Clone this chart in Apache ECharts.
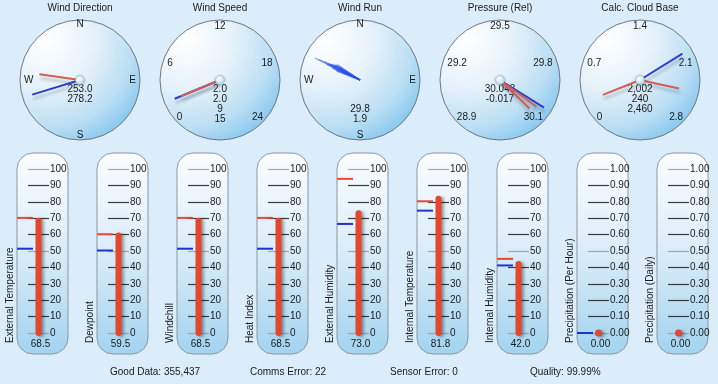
<!DOCTYPE html>
<html><head><meta charset="utf-8">
<script src="https://cdn.jsdelivr.net/npm/echarts@6/dist/echarts.min.js"></script>
<style>html,body{margin:0;padding:0;background:#dbecfb;}#c{width:718px;height:384px;}</style>
</head><body><div id="c"></div>
<script>
// ---------------- DATA ----------------
const dialTitles = ['Wind Direction', 'Wind Speed', 'Wind Run', 'Pressure (Rel)', 'Calc. Cloud Base'];
const compassLabels = ['N', 'E', 'S', 'W'];
const windDirValues = [253.0, 278.2];          // blue, red
const windSpeedTicks = ['0', '6', '12', '18', '24'];
const windSpeedValues = [2.0, 2.0];            // blue, red needles
const windSpeedExtra = [9, 15];                // readouts only
const windRunDirs = [296, 296.5, 297.5, 295, 298, 300, 302, 304, 293, 291, 299, 301, 294, 297, 303, 295.5, 292, 298.5];
const windRunLens = [50, 46, 40, 37, 34, 31, 29, 27, 29, 25, 33, 28, 31, 36, 24, 22, 26, 30];
const windRunText = [29.8, 1.9];
const pressureTicks = ['28.9', '29.2', '29.5', '29.8', '30.1'];
const pressureValues = [30.043, 30.060, 30.095]; // blue, red, red
const pressureTrend = -0.017;
const cloudTicks = ['0', '0.7', '1.4', '2.1', '2.8'];
const cloudValues = [2002, 240, 2460];         // blue, red, red

const thermoNames = ['External Temperature', 'Dewpoint', 'Windchill', 'Heat Index', 'External Humidity',
  'Internal Temperature', 'Internal Humidity', 'Precipitation (Per Hour)', 'Precipitation (Daily)'];
const thermoValues = [68.5, 59.5, 68.5, 68.5, 73.0, 81.8, 42.0, 0.00, 0.00];
const thermoHigh = [70.2, 60.2, 70.2, 70.2, 94.0, 80.3, 45.2, null, null];
const thermoLow = [51.4, 50.3, 51.4, 51.4, 66.5, 74.6, 41.2, 0.00, null];
const thermoMax = [100, 100, 100, 100, 100, 100, 100, 1, 1];
const ticks100 = ['0', '10', '20', '30', '40', '50', '60', '70', '80', '90', '100'];
const ticks1 = ['0.00', '0.10', '0.20', '0.30', '0.40', '0.50', '0.60', '0.70', '0.80', '0.90', '1.00'];

const statLabels = ['Good Data', 'Comms Error', 'Sensor Error', 'Quality'];
const statValues = ['355,437', '22', '0', '99.99%'];

// ---------------- LAYOUT / STYLE ----------------
const FONT = '"Liberation Sans", Arial, Helvetica, sans-serif';
const CX0 = 80, DX = 140, CY = 80, R = 60;
const TL0 = 17, TDX = 80, TTOP = 153, TW = 51, TH = 201;
const NRED = '#d45d52', NBLUE = '#2b3fcf';
const MRED = '#e5473a', MBLUE = '#1d33d6', BAR = '#e6462c';
const TXT = '#1a1a1a';
const G = echarts.graphic;

function detailStyle(dy, text) {
  return { show: true, offsetCenter: [0, dy], formatter: () => text, fontSize: 10, fontFamily: FONT,
    fontWeight: 'normal', color: TXT, lineHeight: 12, padding: 0, width: 70, height: 12,
    backgroundColor: 'transparent', valueAnimation: false };
}
function needle(value, color, len, dy, text) {
  return { value, pointer: { length: len, width: 2 },
    itemStyle: { color, shadowColor: 'rgba(30,50,80,0.28)', shadowBlur: 3, shadowOffsetX: 1, shadowOffsetY: 4 },
    detail: text == null ? { show: false } : detailStyle(dy, text) };
}
function textOnly(value, dy, text) {
  return { value, pointer: { length: 0, width: 0 }, itemStyle: { color: 'rgba(0,0,0,0)' }, detail: detailStyle(dy, text) };
}
const anchorStyle = { show: true, showAbove: true, size: 9, icon: 'circle',
  itemStyle: { color: new G.RadialGradient(0.35, 0.3, 0.8, [{ offset: 0, color: '#ffffff' }, { offset: 1, color: '#b3d8ef' }]),
    borderColor: '#9dbbd0', borderWidth: 0.5, shadowBlur: 2, shadowColor: 'rgba(0,0,0,0.25)' } };

function dial(i, cfg) {
  return Object.assign({
    type: 'gauge', center: [CX0 + DX * i, CY], radius: R,
    axisLine: { show: false }, splitLine: { show: false, length: 0, distance: 0 }, axisTick: { show: false },
    axisLabel: { show: false },
    pointer: { icon: 'rect', width: 2, length: 50 },
    anchor: anchorStyle, title: { show: false }, detail: { show: false }, progress: { show: false },
    silent: true, animation: false
  }, cfg);
}
// label-only gauge: shows the tick labels whose index is in `which`
function labelDial(i, startAngle, endAngle, min, max, labels, which, distance, padding) {
  const n = labels.length - 1;
  return dial(i, { min, max, startAngle, endAngle, splitNumber: n, anchor: { show: false }, pointer: { show: false },
    axisLabel: { show: true, distance, color: TXT, fontSize: 10, fontFamily: FONT,
      rich: { s: { padding, fontSize: 10, fontFamily: FONT, color: TXT } },
      formatter: v => { const k = Math.round((v - min) / ((max - min) / n)); return which.indexOf(k) >= 0 ? '{s|' + labels[k] + '}' : ''; } },
    data: [{ value: min }] });
}
function scaleLabels(i, labels, min, max) {
  return [
    labelDial(i, 225, -45, min, max, labels, [2], 1, [0, 0, 0, 0]),
    labelDial(i, 225, -45, min, max, labels, [1, 3], 3, [10, 0, 0, 0]),
    labelDial(i, 225, -45, min, max, labels, [0, 4], -1, [0, 0, 12, 0])
  ];
}
const compass5 = compassLabels.concat(['']);
const D = [9.5, 19.3, 29.2, 39.0];
const series = [];
// Wind direction
series.push(labelDial(0, 90, -270, 0, 360, compass5, [0, 2], -0.5, [0, 0, 0, 0]));
series.push(labelDial(0, 90, -270, 0, 360, compass5, [1, 3], 4, [0, 0, 0, 0]));
series.push(dial(0, { min: 0, max: 360, startAngle: 90, endAngle: -270,
  data: [needle(windDirValues[0], NBLUE, 50, D[0], windDirValues[0].toFixed(1)),
         needle(windDirValues[1], NRED, 41, D[1], windDirValues[1].toFixed(1))] }));
// Wind speed
const wsMin = +windSpeedTicks[0], wsMax = +windSpeedTicks[4];
series.push(...scaleLabels(1, windSpeedTicks, wsMin, wsMax));
series.push(dial(1, { min: wsMin, max: wsMax, startAngle: 225, endAngle: -45,
  data: [needle(windSpeedValues[0], NBLUE, 49, D[0], windSpeedValues[0].toFixed(1)),
         needle(windSpeedValues[1], NRED, 42, D[1], windSpeedValues[1].toFixed(1)),
         textOnly(windSpeedExtra[0], D[2], String(windSpeedExtra[0])),
         textOnly(windSpeedExtra[1], D[3], String(windSpeedExtra[1]))] }));
// Wind run
series.push(labelDial(2, 90, -270, 0, 360, compass5, [0, 2], -0.5, [0, 0, 0, 0]));
series.push(labelDial(2, 90, -270, 0, 360, compass5, [1, 3], 4, [0, 0, 0, 0]));
const runData = windRunDirs.map((d, k) => ({ value: d, pointer: { length: windRunLens[k], width: 1.3 },
  itemStyle: { color: 'rgba(40,80,235,0.5)' } }));
runData.push(textOnly(0, D[2], windRunText[0].toFixed(1)));
runData.push(textOnly(0, D[3], windRunText[1].toFixed(1)));
series.push(dial(2, { min: 0, max: 360, startAngle: 90, endAngle: -270, anchor: { show: false }, data: runData }));
// Pressure
const pMin = parseFloat(pressureTicks[0]), pMax = parseFloat(pressureTicks[4]);
series.push(...scaleLabels(3, pressureTicks, pMin, pMax));
series.push(dial(3, { min: pMin, max: pMax, startAngle: 225, endAngle: -45,
  data: [needle(pressureValues[0], NBLUE, 52, D[0], pressureValues[0].toFixed(3)),
         needle(pressureValues[1], NRED, 45, 0, null),
         needle(pressureValues[2], NRED, 41, 0, null),
         textOnly(pMin, D[1], pressureTrend.toFixed(3))] }));
// Cloud base
const cMax = parseFloat(cloudTicks[4]) * 1000;
series.push(...scaleLabels(4, cloudTicks, 0, cMax));
series.push(dial(4, { min: 0, max: cMax, startAngle: 225, endAngle: -45,
  data: [needle(cloudValues[0], NBLUE, 50, D[0], cloudValues[0].toLocaleString('en-US')),
         needle(cloudValues[1], NRED, 40, D[1], cloudValues[1].toLocaleString('en-US')),
         needle(cloudValues[2], NRED, 40, D[2], cloudValues[2].toLocaleString('en-US'))] }));

// Thermometers
const grids = [], xAxes = [], yAxes = [];
thermoNames.forEach((name, i) => {
  grids.push({ left: TL0 + 11 + TDX * i, top: 169, width: 21, height: 164 });
  xAxes.push({ gridIndex: i, type: 'value', min: -1, max: 1, show: false });
  const labels = thermoMax[i] === 1 ? ticks1 : ticks100;
  yAxes.push({ gridIndex: i, type: 'value', position: 'right', min: 0, max: thermoMax[i], interval: thermoMax[i] / 10,
    axisLine: { show: false }, axisTick: { show: false },
    splitLine: { show: true, showMinLine: true, showMaxLine: true, lineStyle: { color: ['#a5a5a5', '#3a3a3a', '#3a3a3a', '#3a3a3a', '#3a3a3a'], width: 1.2 } },
    axisLabel: { margin: 1, fontSize: 10, color: TXT, fontFamily: FONT, formatter: (v, idx) => labels[idx] } });
  const dec = thermoMax[i] === 1 ? 2 : 1;
  series.push({
    type: 'custom', xAxisIndex: i, yAxisIndex: i, clip: false, silent: true, animation: false, z: 5,
    data: [[0, thermoValues[i]]],
    renderItem(params, api) {
      const v = api.value(1);
      const b = api.coord([0, 0]);
      const t = api.coord([0, v]);
      const ch = [];
      [[thermoHigh[i], MRED], [thermoLow[i], MBLUE]].forEach(([m, col]) => {
        if (m == null) return;
        const p = api.coord([0, m]);
        ch.push({ type: 'line', shape: { x1: b[0] - 21.5, y1: p[1], x2: b[0] - 5.5, y2: p[1] },
          style: { stroke: col, lineWidth: 2 } });
      });
      const sh = { shadowBlur: 3, shadowColor: 'rgba(0,0,0,0.35)', shadowOffsetX: 2.5, shadowOffsetY: 1 };
      if (Math.abs(t[1] - b[1]) < 0.5) {
        ch.push({ type: 'circle', shape: { cx: b[0], cy: b[1], r: 3.5 }, style: Object.assign({ fill: BAR }, sh) });
      } else {
        ch.push({ type: 'line', shape: { x1: b[0], y1: b[1], x2: t[0], y2: t[1] },
          style: Object.assign({ stroke: BAR, lineWidth: 6, lineCap: 'round' }, sh) });
      }
      ch.push({ type: 'text', style: { text: thermoValues[i].toFixed(dec), x: b[0] + 2, y: b[1] + 11,
        align: 'center', verticalAlign: 'middle', font: '10px ' + FONT, fill: TXT } });
      return { type: 'group', children: ch };
    }
  });
});

// Decorative graphics
const graphics = [];
dialTitles.forEach((t, i) => {
  const cx = CX0 + DX * i;
  graphics.push({ type: 'circle', z: -1, shape: { cx, cy: CY, r: R },
    style: { fill: new G.RadialGradient(0.22, 0.18, 0.9, [{ offset: 0, color: '#ffffff' }, { offset: 0.45, color: '#e5f1fa' },
      { offset: 0.8, color: '#badef4' }, { offset: 1, color: '#8fcbef' }]), stroke: '#6f7880', lineWidth: 1 } });
  graphics.push({ type: 'text', z: 10, x: cx, y: 8, style: { text: t, align: 'center', verticalAlign: 'middle',
    font: '10px ' + FONT, fill: TXT } });
});
thermoNames.forEach((n, i) => {
  const x = TL0 + TDX * i;
  graphics.push({ type: 'rect', z: -1, shape: { x: x, y: TTOP, width: TW, height: TH, r: 16 },
    style: { fill: new G.LinearGradient(0, 0, 0, 1, [{ offset: 0, color: '#fbfdff' }, { offset: 0.5, color: '#d9ecf8' },
      { offset: 1, color: '#a2d3f0' }]), stroke: '#8d979f', lineWidth: 1 } });
  graphics.push({ type: 'text', z: 10, x: x - 7, y: 343, rotation: Math.PI / 2,
    style: { text: n, align: 'left', verticalAlign: 'middle', font: '10px ' + FONT, fill: TXT } });
});
statLabels.forEach((s, k) => {
  graphics.push({ type: 'text', z: 10, x: 110 + 140 * k, y: 372,
    style: { text: s + ': ' + statValues[k], align: 'left', verticalAlign: 'middle', font: '10px ' + FONT, fill: TXT } });
});

const chart = echarts.init(document.getElementById('c'), null, { renderer: 'canvas' });
chart.setOption({
  backgroundColor: '#dbecfb', animation: false, textStyle: { fontFamily: FONT },
  graphic: { elements: graphics },
  grid: grids, xAxis: xAxes, yAxis: yAxes, series
});
</script></body></html>
